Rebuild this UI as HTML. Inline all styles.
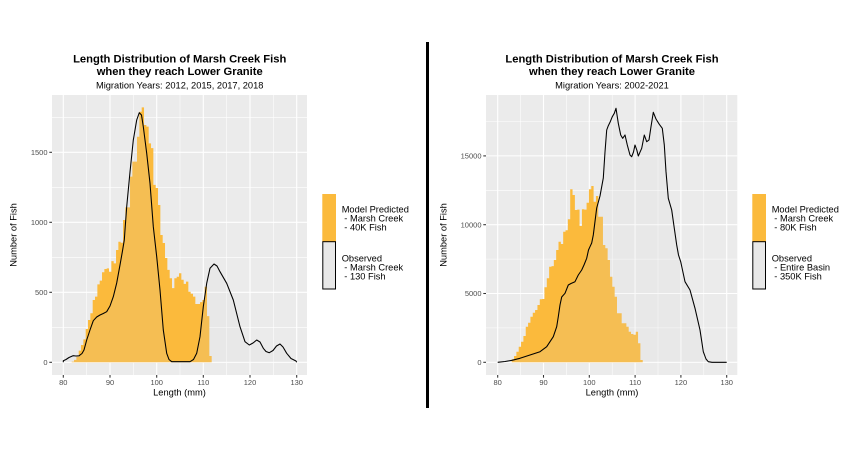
<!DOCTYPE html>
<html><head><meta charset="utf-8"><style>
html,body{margin:0;padding:0;background:#fff;}
svg{display:block;}
text{font-family:"Liberation Sans",Arial,Helvetica,sans-serif;}
</style></head><body>
<svg width="856" height="452" viewBox="0 0 856 452" xmlns="http://www.w3.org/2000/svg">
<rect width="856" height="452" fill="#fff"/>

<!-- ================= LEFT CHART ================= -->
<text x="179.7" y="62.7" font-size="11.2" font-weight="bold" text-anchor="middle" fill="#000">Length Distribution of Marsh Creek Fish</text>
<text x="179.7" y="75" font-size="11.2" font-weight="bold" text-anchor="middle" fill="#000">when they reach Lower Granite</text>
<text x="179.7" y="88.3" font-size="9.3" text-anchor="middle" fill="#000">Migration Years: 2012, 2015, 2017, 2018</text>

<rect x="52" y="95" width="255" height="280" fill="#EBEBEB"/>
<g stroke="#fff" stroke-width="0.55">
<line x1="86.7" y1="95" x2="86.7" y2="375"/><line x1="133.3" y1="95" x2="133.3" y2="375"/><line x1="180" y1="95" x2="180" y2="375"/><line x1="226.7" y1="95" x2="226.7" y2="375"/><line x1="273.3" y1="95" x2="273.3" y2="375"/>
<line x1="52" y1="327.3" x2="307" y2="327.3"/><line x1="52" y1="257.3" x2="307" y2="257.3"/><line x1="52" y1="187.3" x2="307" y2="187.3"/><line x1="52" y1="117.3" x2="307" y2="117.3"/>
</g>
<g stroke="#fff" stroke-width="1.07">
<line x1="63.3" y1="95" x2="63.3" y2="375"/><line x1="110" y1="95" x2="110" y2="375"/><line x1="156.7" y1="95" x2="156.7" y2="375"/><line x1="203.3" y1="95" x2="203.3" y2="375"/><line x1="250" y1="95" x2="250" y2="375"/><line x1="296.7" y1="95" x2="296.7" y2="375"/>
<line x1="52" y1="362.3" x2="307" y2="362.3"/><line x1="52" y1="292.3" x2="307" y2="292.3"/><line x1="52" y1="222.3" x2="307" y2="222.3"/><line x1="52" y1="152.3" x2="307" y2="152.3"/>
</g>

<path transform="translate(71.7 362.3) scale(2.333 -0.14)" fill="#FBBA3C" d="M0 0 V5 H1 V17 H2 V40 H3 V83 H4 V124 H5 V164 H6 V238 H7 V302 H8 V350 H9 V445 H10 V469 H11 V557 H12 V583 H13 V643 H14 V666 H15 V671 H16 V647 H17 V723 H18 V707 H19 V802 H20 V861 H21 V854 H22 V1016 H23 V1107 H24 V1107 H25 V1326 H26 V1433 H27 V1433 H28 V1611 H29 V1790 H30 V1821 H31 V1695 H32 V1683 H33 V1564 H34 V1530 H35 V1267 H36 V1245 H37 V1124 H38 V909 H39 V852 H40 V745 H41 V660 H42 V600 H43 V530 H44 V600 H45 V611 H46 V636 H47 V590 H48 V560 H49 V576 H50 V504 H51 V490 H52 V469 H53 V416 H54 V416 H55 V430 H56 V445 H57 V540 H58 V330 H59 V45 H60 V0 Z"/>

<path fill="#D9D9D9" fill-opacity="0.15" stroke="#000" stroke-width="1.07" stroke-linejoin="round" d="M63.3,362.3 L63.3,360.7 L66,359.5 L69,357.5 L73,355.7 L76,356 L79,355.8 L82,353.5 L84,350 L86.7,340 L90,330 L93.3,320.7 L96.7,317 L100,315 L103.3,313.5 L106.7,311.7 L110,306 L113.3,296.7 L116.7,283 L120,265 L122.3,252 L124.3,240 L125,230 L126.7,206.7 L130,172 L133.3,140 L136.7,120 L139.3,112.7 L141.5,115 L143.3,126.7 L146.7,153.3 L150,183.3 L153.3,226.7 L156.7,256.7 L160,290 L163.3,330 L166.7,353.3 L169,359.5 L171.7,361.7 L190,361.7 L193.5,359.5 L196.7,353.3 L200,336.7 L203.3,306.7 L206.7,283.3 L210,268.3 L214,264 L217,266 L220,271.7 L226.7,283.3 L233.3,300 L240,326.7 L245,341.7 L249.3,345 L253,343 L256.7,340 L260,342 L263.3,348.3 L266,351.5 L269.3,352.7 L273,350.5 L276.5,346 L280,344 L283,347 L286.7,353.3 L291,358.5 L296,361 L296.7,362.3"/>

<!-- left axes -->
<g stroke="#333" stroke-width="1.07">
<line x1="49.3" y1="362.3" x2="52" y2="362.3"/><line x1="49.3" y1="292.3" x2="52" y2="292.3"/><line x1="49.3" y1="222.3" x2="52" y2="222.3"/><line x1="49.3" y1="152.3" x2="52" y2="152.3"/>
<line x1="63.3" y1="375" x2="63.3" y2="377.7"/><line x1="110" y1="375" x2="110" y2="377.7"/><line x1="156.7" y1="375" x2="156.7" y2="377.7"/><line x1="203.3" y1="375" x2="203.3" y2="377.7"/><line x1="250" y1="375" x2="250" y2="377.7"/><line x1="296.7" y1="375" x2="296.7" y2="377.7"/>
</g>
<g font-size="7.5" fill="#4D4D4D" text-anchor="end">
<text x="47.5" y="365">0</text><text x="47.5" y="295">500</text><text x="47.5" y="225">1000</text><text x="47.5" y="155">1500</text>
</g>
<g font-size="7.5" fill="#4D4D4D" text-anchor="middle">
<text x="63.3" y="385">80</text><text x="110" y="385">90</text><text x="156.7" y="385">100</text><text x="203.3" y="385">110</text><text x="250" y="385">120</text><text x="296.7" y="385">130</text>
</g>
<text x="179.5" y="395.5" font-size="9.3" text-anchor="middle" fill="#000">Length (mm)</text>
<text transform="translate(16.7 235) rotate(-90)" x="0" y="0" font-size="9.3" text-anchor="middle" fill="#000">Number of Fish</text>

<!-- left legend -->
<rect x="322.3" y="194" width="13.7" height="47.7" fill="#FBBA3C"/>
<rect x="322.8" y="241.7" width="12.7" height="47.3" fill="#E8E8E8" stroke="#000" stroke-width="1"/>
<g font-size="9.3" fill="#000">
<text x="341.7" y="212.3">Model Predicted</text>
<text x="341.7" y="221.6" xml:space="preserve"> - Marsh Creek</text>
<text x="341.7" y="230.5" xml:space="preserve"> - 40K Fish</text>
<text x="341.7" y="261.3">Observed</text>
<text x="341.7" y="270.4" xml:space="preserve"> - Marsh Creek</text>
<text x="341.7" y="279.4" xml:space="preserve"> - 130 Fish</text>
</g>

<!-- divider -->
<rect x="426" y="42" width="3" height="366" fill="#000"/>

<!-- ================= RIGHT CHART ================= -->
<text x="612" y="62.7" font-size="11.2" font-weight="bold" text-anchor="middle" fill="#000">Length Distribution of Marsh Creek Fish</text>
<text x="612" y="75" font-size="11.2" font-weight="bold" text-anchor="middle" fill="#000">when they reach Lower Granite</text>
<text x="612" y="88.3" font-size="9.3" text-anchor="middle" fill="#000">Migration Years: 2002-2021</text>

<rect x="486" y="95" width="251.3" height="280" fill="#EBEBEB"/>
<g stroke="#fff" stroke-width="0.55">
<line x1="520.6" y1="95" x2="520.6" y2="375"/><line x1="566.4" y1="95" x2="566.4" y2="375"/><line x1="612.2" y1="95" x2="612.2" y2="375"/><line x1="658" y1="95" x2="658" y2="375"/><line x1="703.8" y1="95" x2="703.8" y2="375"/>
<line x1="486" y1="327.9" x2="737.3" y2="327.9"/><line x1="486" y1="259.1" x2="737.3" y2="259.1"/><line x1="486" y1="190.3" x2="737.3" y2="190.3"/><line x1="486" y1="121.5" x2="737.3" y2="121.5"/>
</g>
<g stroke="#fff" stroke-width="1.07">
<line x1="497.7" y1="95" x2="497.7" y2="375"/><line x1="543.5" y1="95" x2="543.5" y2="375"/><line x1="589.3" y1="95" x2="589.3" y2="375"/><line x1="635.1" y1="95" x2="635.1" y2="375"/><line x1="680.9" y1="95" x2="680.9" y2="375"/><line x1="726.7" y1="95" x2="726.7" y2="375"/>
<line x1="486" y1="362.3" x2="737.3" y2="362.3"/><line x1="486" y1="293.5" x2="737.3" y2="293.5"/><line x1="486" y1="224.7" x2="737.3" y2="224.7"/><line x1="486" y1="155.9" x2="737.3" y2="155.9"/>
</g>

<path transform="translate(511.7 362.3) scale(2.34 -0.01376)" fill="#FBBA3C" d="M0 0 V218 H1 V458 H2 V770 H3 V1134 H4 V1497 H5 V1911 H6 V2587 H7 V2878 H8 V3314 H9 V3605 H10 V3801 H11 V4164 H12 V4578 H13 V4600 H14 V5450 H15 V6104 H16 V6948 H17 V6990 H18 V7435 H19 V8161 H20 V8765 H21 V8600 H22 V9491 H23 V9600 H24 V10392 H25 V12573 H26 V12158 H27 V11068 H28 V11100 H29 V9905 H30 V11119 H31 V11100 H32 V11599 H33 V12573 H34 V12813 H35 V11672 H36 V12086 H37 V10581 H38 V10581 H39 V8525 H40 V8285 H41 V7435 H42 V6221 H43 V5494 H44 V4767 H45 V3561 H46 V3561 H47 V2834 H48 V2834 H49 V2587 H50 V2224 H51 V2057 H52 V2000 H53 V2224 H54 V1381 H55 V167 H56 V0 Z"/>

<path fill="#D9D9D9" fill-opacity="0.15" stroke="#000" stroke-width="1.07" stroke-linejoin="round" d="M497.7,362.3 L505,361.5 L512,360.3 L520,358.3 L530,355 L540,351.7 L546.7,346.7 L553.3,336.7 L556.7,326.7 L558.3,316.7 L560,305 L561.7,297 L565,293.3 L568.3,285 L571,283.5 L575,281.7 L578.3,275 L581.7,270 L584,265 L586.7,258.3 L588.5,250 L590,246.7 L591.7,243 L593.3,235 L596.7,208 L600,196 L603.3,178 L605,152 L606.7,130 L608.3,125.7 L610,122.3 L612.3,116.7 L614.3,113.3 L616,108.3 L618.3,123.3 L620.7,135 L622.7,138.3 L625,135 L627.3,145 L630,155 L631.7,156.7 L633.5,152 L635,145 L636.8,150 L638.3,156 L641.7,148.3 L644.3,135 L646.7,141.7 L649,140 L651,126.7 L653.3,112.3 L656,119 L659.3,124.3 L662.3,128.3 L664.3,145 L666,171.7 L668.3,198.3 L671.7,210 L674.3,228.3 L676.7,245 L678.5,255 L680.7,261.7 L685,281.7 L690,290 L695,308.3 L700,330 L703.3,351.7 L706,359 L708.3,361.7 L712,362.3 L726.7,362.3"/>

<!-- right axes -->
<g stroke="#333" stroke-width="1.07">
<line x1="483.3" y1="362.3" x2="486" y2="362.3"/><line x1="483.3" y1="293.5" x2="486" y2="293.5"/><line x1="483.3" y1="224.7" x2="486" y2="224.7"/><line x1="483.3" y1="155.9" x2="486" y2="155.9"/>
<line x1="497.7" y1="375" x2="497.7" y2="377.7"/><line x1="543.5" y1="375" x2="543.5" y2="377.7"/><line x1="589.3" y1="375" x2="589.3" y2="377.7"/><line x1="635.1" y1="375" x2="635.1" y2="377.7"/><line x1="680.9" y1="375" x2="680.9" y2="377.7"/><line x1="726.7" y1="375" x2="726.7" y2="377.7"/>
</g>
<g font-size="7.5" fill="#4D4D4D" text-anchor="end">
<text x="481.5" y="365">0</text><text x="481.5" y="296.2">5000</text><text x="481.5" y="227.4">10000</text><text x="481.5" y="158.6">15000</text>
</g>
<g font-size="7.5" fill="#4D4D4D" text-anchor="middle">
<text x="497.7" y="385">80</text><text x="543.5" y="385">90</text><text x="589.3" y="385">100</text><text x="635.1" y="385">110</text><text x="680.9" y="385">120</text><text x="726.7" y="385">130</text>
</g>
<text x="612" y="395.5" font-size="9.3" text-anchor="middle" fill="#000">Length (mm)</text>
<text transform="translate(446.7 235) rotate(-90)" x="0" y="0" font-size="9.3" text-anchor="middle" fill="#000">Number of Fish</text>

<!-- right legend -->
<rect x="752.3" y="194" width="13.7" height="47.7" fill="#FBBA3C"/>
<rect x="752.8" y="241.7" width="12.7" height="47.3" fill="#E8E8E8" stroke="#000" stroke-width="1"/>
<g font-size="9.3" fill="#000">
<text x="771.7" y="212.3">Model Predicted</text>
<text x="771.7" y="221.6" xml:space="preserve"> - Marsh Creek</text>
<text x="771.7" y="230.5" xml:space="preserve"> - 80K Fish</text>
<text x="771.7" y="261.3">Observed</text>
<text x="771.7" y="270.4" xml:space="preserve"> - Entire Basin</text>
<text x="771.7" y="279.4" xml:space="preserve"> - 350K Fish</text>
</g>
</svg>
</body></html>
